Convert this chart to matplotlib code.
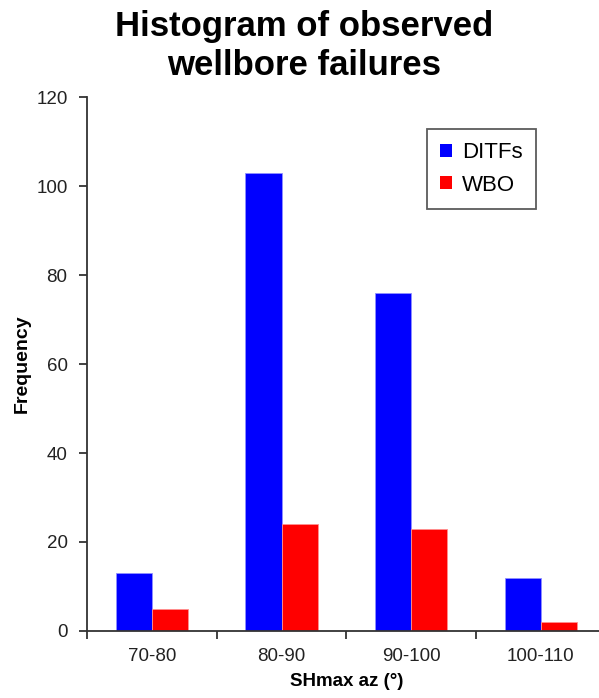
import matplotlib
matplotlib.use("Agg")
import matplotlib.pyplot as plt
import numpy as np
from matplotlib.patches import Patch

categories = ["70-80", "80-90", "90-100", "100-110"]
ditfs = [13, 103, 76, 12]
wbo = [5, 24, 23, 2]
y_ticks = [0, 20, 40, 60, 80, 100, 120]

plt.rcParams["font.family"] = ["Liberation Sans", "DejaVu Sans"]

fig = plt.figure(figsize=(5.99, 6.98), dpi=100)
ax = fig.add_axes([0.1452, 0.096, 0.866, 0.765])

# each bin spans [i, i+1]; the pair of bars sits in the middle
x = np.arange(len(categories))
w = 0.28
ax.bar(x + 0.5, ditfs, width=-w, align="edge", color="#0000ff", edgecolor="#9090ff", linewidth=0.6)
ax.bar(x + 0.5, wbo, width=w, align="edge", color="#ff0000", edgecolor="#ff9090", linewidth=0.6)

ax.set_xlim(0, len(categories) - 0.01)
ax.set_ylim(0, 120)
ax.set_xticks(x + 0.5)
ax.set_xticklabels(categories, fontsize=13.5, color="#222222")
ax.set_xticks(np.arange(len(categories) + 1), minor=True)
ax.tick_params(axis="x", which="major", length=0, pad=12)
ax.tick_params(axis="x", which="minor", length=6, width=1.3, direction="out", color="#333333")
ax.set_yticks(y_ticks)
ax.tick_params(axis="y", labelsize=13.5, labelcolor="#222222", length=6, width=1.3,
               color="#333333", pad=8)

for side in ("top", "right"):
    ax.spines[side].set_visible(False)
for side in ("left", "bottom"):
    ax.spines[side].set_color("#333333")
    ax.spines[side].set_linewidth(1.3)

ax.set_xlabel("SHmax az (°)", fontsize=13.5, fontweight="bold", labelpad=6)
ax.set_ylabel("Frequency", fontsize=14, fontweight="bold", labelpad=4)

fig.suptitle("Histogram of observed\nwellbore failures", x=0.508, y=0.985,
             fontsize=25, fontweight="bold", linespacing=1.2)

handles = [Patch(facecolor="#0000ff", label="DITFs"), Patch(facecolor="#ff0000", label="WBO")]
leg = ax.legend(handles=handles, loc="upper left", bbox_to_anchor=(0.655, 0.94),
                fontsize=16, frameon=True, fancybox=False, handlelength=0.55, handleheight=0.55,
                handletextpad=0.45, borderpad=0.6, labelspacing=0.5, borderaxespad=0)
leg.get_frame().set_edgecolor("#333333")
leg.get_frame().set_linewidth(1.3)

fig.savefig("out.png", dpi=100)
